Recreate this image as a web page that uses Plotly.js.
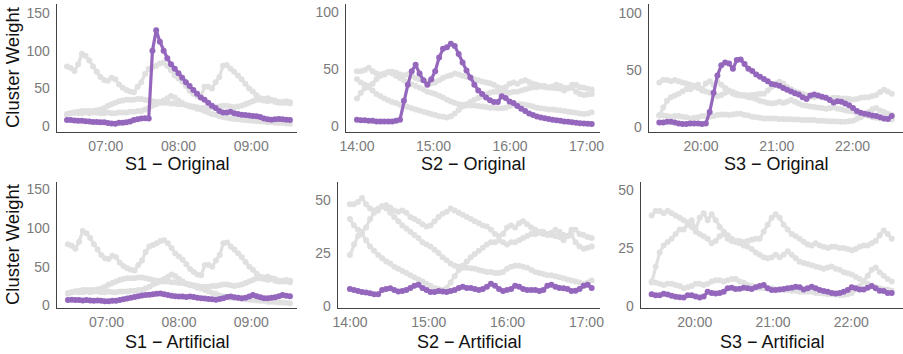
<!DOCTYPE html>
<html>
<head>
<meta charset="utf-8">
<script src="https://cdn.plot.ly/plotly-3.0.1.min.js"></script>
<style>html,body{margin:0;padding:0;background:#fff;}#chart{width:903px;height:354px;}</style>
</head>
<body>
<div id="chart"></div>
<script>
// ---------- data ----------
const s1Span = ['2020-01-01 06:28', '2020-01-01 09:32'];
const s2Span = ['2020-01-01 14:00', '2020-01-01 17:04'];
const s3Span = ['2020-01-01 19:27', '2020-01-01 22:31'];

const s1Original = [8,8,7.5,7,7,6.5,6,5.5,5.5,5, 5,4,3.5,3,4.5,4.5,5,6,8,9, 10,10.5,10,100,127,112,100,90,82,76, 70,64,58,53,48,43,38,35,31,27, 24,20,18,18,19,17,16,15,14.5,14, 13.5,13,12,10,9,8.5,9,9.5,9,8.5, 8];
const s1Artificial = [7,7.5,7,7,6.5,7,6.5,6,6.5,6, 5.5,5.5,6,6,7,8,9,10,11,12, 13,13.5,14,14.5,15,15.5,14.5,13.5,12.5,12, 11.5,11.5,11,11.5,11,10,9.5,9,8.5,8, 7.5,8.5,9.5,11,11.5,10.5,10,9.5,10,11.5, 13.5,12,10.5,9.5,9.5,10,10.5,12,13.5,12.5, 12];
const s1OtherA = [79,77,73,82,96,93,87,79,72,65, 61,60,64,62,55,51,48,46,45,52, 58,69,76,78,80,83,84,80,74,67, 63,59,53,47,43,40,39,52,52,50, 58,65,80,81,76,72,67,62,56,50, 46,41,37,36,37,34,32,31,32,33, 32];
const s1OtherB = [16,17,18,17,17,18,17,18,18,17, 17,18,17,17,18,18,18,19,19,20, 20,22,24,27,29,31,34,37,40,38, 34,31,28,26,25,23,22,20,18,16, 15,13,12,11,10,9.5,9,8.5,8,7.5, 7,6.5,6,6,5,5,4.5,4,4,3.5, 3];
const s1OtherC = [15,17,18,19,20,20,20,20,21,22, 24,27,29,31,33,34,35,35,35,36, 36,35,34,33,32,32,31,31,30,30, 29,29,28,27,26,25,24,24,24,25, 25,26,27,27,26,25,26,27,29,31, 33,35,35,34,33,35,34,32,31,31, 30];

const s2Original = [5.5,5,5,4.5,4.5,4,4,4,4,4, 4.5,5.5,22,36,48,53.5,46,40,36,41, 48,60,67.5,69,72,70,63,55.5,48.5,42.5, 36,31,28,25,22.5,21,21,26,24.5,21.5, 20,17.5,15,13,11,9.6,8.3,7.5,6.8,6, 5.5,5,4.5,4,3.6,3.2,2.8,2.4,2.2,2, 1.8];
const s2Artificial = [8,7.5,7,6.5,6.3,6,5.5,5.5,7.5,8, 8.3,7.5,6.8,7,7.5,8.5,9.5,10,8.5,7.5, 6.5,6.5,7,6.8,6.5,7,7.5,8.5,9,8.5, 8.5,8,7.5,8,9,10.5,9.5,8,7,7.5, 8,9.5,9,8,7.5,7.5,7.5,7,7.5,9.5, 10,9,8.5,8.3,8,7,7.2,8,9.5,10, 8.5];
const s2OtherA = [48,48,49,51,48,46,45,45,47,47.5, 46.5,45,44.5,45,44,42,41,40,38.5,37.5, 38,40,42,43.5,44.5,46,45,44,43,42, 41,40,39,38,37.5,36,34,33,34,37, 38,37,39,40,38.5,37,36,35,35,34, 34.5,36,35,33.5,33,36,36,34,33.5,32.5, 32];
const s2OtherB = [41,38,36,34,31,28,26,24,22.5,21, 20,18.5,17.5,16.5,15.5,14.5,13.5,12.5,11.5,10.5, 9.5,8.5,8,7.5,8.5,11,14,17,19,21, 23,24.5,26,27.5,29,30,30,31,30,29, 30,30,31,32,33,34,34,34.5,34,33.5, 33.5,33,32.5,31,33,33.5,30,28,27,27.5, 28];
const s2OtherC = [24,29,33,35,37,41,44,46,47,46, 44,42,40,38,36.5,35,33.5,32,30,29, 28,26.5,25,23,21.5,20,19,18.5,18,18, 17.8,17.5,17,16.5,16,16,15.5,15.5,16,17.5, 18.5,19,19,18.5,18,17,16,15.5,15,14.5, 14.5,14,13.5,13,12.5,12,11.5,11,10.5,11, 12];

const s3Original = [4,4,4.5,4.5,4,3,2.5,2.5,3,3, 3,2.5,3,13,30,45,54,56.5,55.5,51, 58.5,59,55,51,49,46,44,42,40,37.5, 37,36,34,32.5,31,29.5,28.5,26,24.5,27.5, 28.5,27.5,26.5,25.5,23.5,21.5,22.5,22,20.5,19, 16.5,14,12.5,11.5,11,10,9.5,8.5,7.5,7, 9.5];
const s3Artificial = [5,4.5,4.5,5.2,4.8,4.3,3.9,3.6,3.5,4.5, 4.5,4,3.5,4,6,5.5,5.3,5.5,6,7.5, 7.8,7.2,7.3,7.8,7.5,7.2,8,8.5,9,7.5, 6.8,6.8,7,7.2,7.5,7.8,8.2,8,7,7.5, 8.2,7.5,6.8,6.3,6,5.5,5.3,5.5,6,6.8, 8,7.5,7,7,7.8,8.5,7.5,6.5,6.3,5.5, 5.5];
const s3OtherA = [39,41,41,40,41,40,39,38,37,36, 34,32,31,30,29,27,28,30,31,29, 28,27.5,28,27.5,28,28.5,29,29,32,35, 38,39.5,38,35,33,31,30,29,27.7,26.5, 26,27,26,25.5,25,25.5,25.5,25,25,24.5, 24,24.5,25.5,26,26,27,28,30.5,32.5,31, 29];
const s3OtherB = [10,17,23,26,27.5,29,31,33,33,35, 37,33,38,40,37,39.5,37,34,32,30.5, 29,28,27,26,25.5,24.5,23,22,21,20.5, 21,22,21,22,23.5,22,20.5,19,18.5,18, 17.5,17,16.5,16,16.5,17,16,15.5,14.5,14, 13.5,12.5,11.5,10.5,9.5,8.5,8,7.5,7,7, 6.5];
const s3OtherC = [10.5,10,9.5,9,9.5,9.5,9,8.5,7.5,8, 8.5,9.5,9.5,9,9.5,10.5,11,11,10.5,11, 11.5,11.5,10.5,10,9,8.5,8,7.5,7.5,7.5, 7.5,7,7,6.8,6.8,6.5,6.5,6,6,6, 6,5.5,5.5,5.3,5,5,4.8,4.6,4.6,5, 5.5,7,8.5,10.5,13,15.5,16.5,14.5,13,11.5, 10.5];

const panelTitles = ['S1 − Original', 'S2 − Original', 'S3 − Original',
                     'S1 − Artificial', 'S2 − Artificial', 'S3 − Artificial'];
const yLabel = 'Cluster Weight';

// ---------- helpers ----------
function toMs(s){ const [d,t]=s.split(' '); const [Y,M,D]=d.split('-').map(Number); const [h,m]=t.split(':').map(Number); return Date.UTC(Y,M-1,D,h,m); }
function fmt(ms){ return new Date(ms).toISOString().slice(0,19).replace('T',' '); }
function times(span, n){ const a=toMs(span[0]), b=toMs(span[1]); const out=[]; for(let i=0;i<n;i++) out.push(fmt(a+(b-a)*i/(n-1))); return out; }

const PURPLE = '#9467bd', GRAY = '#e0e0e0';
const FONT = 'Liberation Sans, Arial, Helvetica, sans-serif';

function series(span, ys, color, xa, ya, w, ms){
  return {x: times(span, ys.length), y: ys, type:'scatter', mode:'lines+markers',
    xaxis: xa, yaxis: ya, hoverinfo:'skip',
    line:{color:color, width:w}, marker:{color:color, size:ms}};
}

const panels = [
  {span:s1Span, main:s1Original,   others:[s1OtherA,s1OtherB,s1OtherC]},
  {span:s2Span, main:s2Original,   others:[s2OtherA,s2OtherB,s2OtherC]},
  {span:s3Span, main:s3Original,   others:[s3OtherA,s3OtherB,s3OtherC]},
  {span:s1Span, main:s1Artificial, others:[s1OtherA,s1OtherB,s1OtherC]},
  {span:s2Span, main:s2Artificial, others:[s2OtherA,s2OtherB,s2OtherC]},
  {span:s3Span, main:s3Artificial, others:[s3OtherA,s3OtherB,s3OtherC]}
];

const traces = [];
panels.forEach((p,i)=>{
  const xa = 'x'+(i===0?'':i+1), ya = 'y'+(i===0?'':i+1);
  p.others.forEach(o=>traces.push(series(p.span, o, GRAY, xa, ya, 3.2, 6)));
  traces.push(series(p.span, p.main, PURPLE, xa, ya, 3.2, 6));
});

// ---------- layout ----------
const W=903, H=354;
const xDom = [[57,297],[346,600],[649,903],[57,297],[338,600],[641,903]];
const yDom = [[4,132],[4,132],[4,132],[182,308],[182,308],[182,308]];
const xRanges = [
  ['2020-01-01 06:19:45','2020-01-01 09:37:50'],
  ['2020-01-01 13:51:25','2020-01-01 17:10:30'],
  ['2020-01-01 19:18:50','2020-01-01 22:39:55'],
  ['2020-01-01 06:18:55','2020-01-01 09:37:50'],
  ['2020-01-01 13:50:55','2020-01-01 17:10:20'],
  ['2020-01-01 19:18:50','2020-01-01 22:39:40']
];
const yRanges = [[-7.9,162],[-5.3,106.8],[-4.4,107.6],[-3.2,159],[-1.0,58.5],[-1.0,53.5]];
const yDtick = [50,50,50,50,25,25];
const titleY = [164,164,164,342,342,342];

const layout = {width:W, height:H, margin:{l:0,r:0,t:0,b:0}, showlegend:false,
  paper_bgcolor:'#fff', plot_bgcolor:'#fff', font:{family:FONT}, annotations:[]};

for(let i=0;i<6;i++){
  const k = i===0?'':String(i+1);
  layout['xaxis'+k] = {
    domain:[xDom[i][0]/W, Math.min(1,xDom[i][1]/W)], anchor:'y'+k, type:'date',
    range:xRanges[i], tickformat:'%H:%M', dtick:3600000, tick0:'2020-01-01 00:00',
    showgrid:false, zeroline:false, showline:true, linecolor:'#444', linewidth:1.3,
    ticks:'outside', ticklen:1, tickcolor:'rgba(0,0,0,0)',
    tickfont:{family:FONT, size:14, color:'#7a7a7a'}, automargin:false
  };
  layout['yaxis'+k] = {
    domain:[(H-yDom[i][1])/H, (H-yDom[i][0])/H], anchor:'x'+k,
    range:yRanges[i], dtick:yDtick[i], tick0:0,
    showgrid:false, zeroline:false, showline:true, linecolor:'#444', linewidth:1.3,
    ticks:'outside', ticklen:3, tickcolor:'rgba(0,0,0,0)',
    tickfont:{family:FONT, size:14, color:'#7a7a7a'}, automargin:false
  };
  layout.annotations.push({text:panelTitles[i], xref:'paper', yref:'paper',
    x:(xDom[i][0]+Math.min(W,xDom[i][1]))/2/W, y:(H-titleY[i])/H, xanchor:'center', yanchor:'middle',
    showarrow:false, font:{family:FONT, size:18, color:'#111'}});
  if(i===0 || i===3){
    layout.annotations.push({text:yLabel, xref:'paper', yref:'paper', textangle:-90,
      x:12/W, y:(H-(yDom[i][0]+yDom[i][1])/2)/H, xanchor:'center', yanchor:'middle',
      showarrow:false, font:{family:FONT, size:18.5, color:'#111'}});
  }
}

Plotly.newPlot('chart', traces, layout, {staticPlot:true, displayModeBar:false});
</script>
</body>
</html>
